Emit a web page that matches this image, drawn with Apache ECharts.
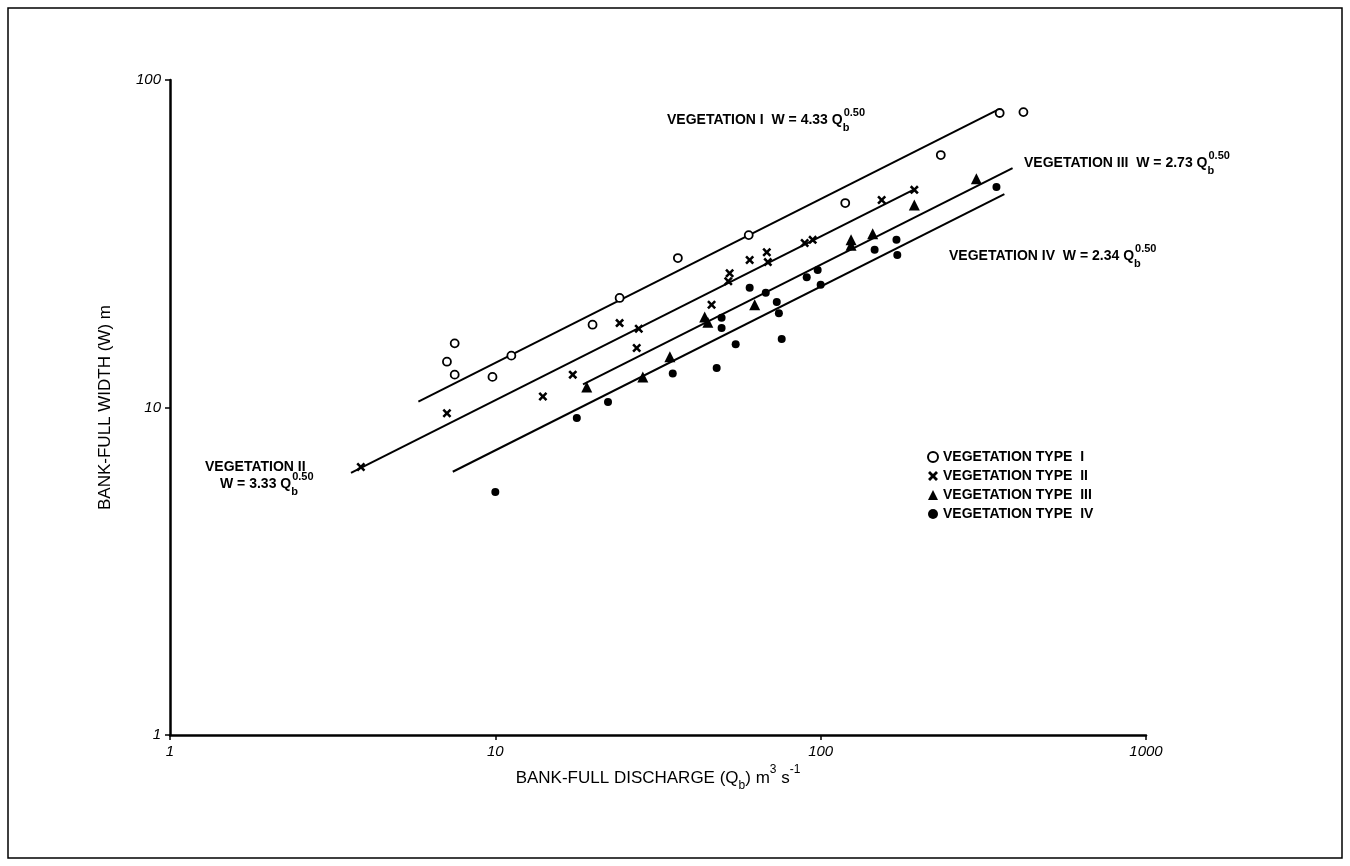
<!DOCTYPE html>
<html>
<head>
<meta charset="utf-8">
<script src="https://cdn.jsdelivr.net/npm/echarts@6/dist/echarts.min.js"></script>
<style>
html, body { margin:0; padding:0; background:#fff; }
#chart { width:1350px; height:866px; }
</style>
</head>
<body>
<div id="chart"></div>
<script>
// 관측값 [Q (m3/s), W (m)] - 식생 유형별
var veg1_pts = [[7.1,13.8],[7.5,15.7],[7.5,12.6],[9.8,12.4],[11.2,14.4],[19.9,17.9],[24.1,21.6],
	[36.4,28.6],[60.1,33.6],[119,42.1],[234,59.0],[355,79.3],[420,79.8]];
var veg2_pts = [[3.86,6.58],[7.1,9.6],[14.0,10.8],[17.3,12.6],[24.1,18.1],[27.6,17.4],[27.2,15.2],
	[46.2,20.6],[52.5,25.7],[52.0,24.3],[60.5,28.2],[68.3,29.8],[68.8,27.8],[89.3,31.8],[94.5,32.5],
	[154,43.0],[194,46.2]];
var veg3_pts = [[19.1,11.55],[28.4,12.4],[34.4,14.3],[44.0,18.9],[45.0,18.2],[62.7,20.6],[124,32.5],
	[124,31.3],[144.5,33.9],[194,41.5],[301,49.9]];
var veg4_pts = [[10.0,5.52],[17.8,9.29],[22.2,10.4],[35.1,12.7],[47.9,13.2],[49.6,18.8],[49.6,17.5],
	[54.8,15.6],[60.5,23.2],[67.8,22.4],[73.3,21.0],[74.4,19.4],[75.9,16.2],[90.6,25.0],[97.9,26.3],
	[100,23.7],[146.5,30.3],[171,32.5],[172,29.2],[347,47.1]];

// 회귀식 W = a * Q^0.50 (계수, 그려진 Q 구간)
var fit_names = ['VEGETATION I', 'VEGETATION II', 'VEGETATION III', 'VEGETATION IV'];
var fit_coef = [4.33, 3.33, 2.73, 2.34];
var fit_exp = 0.50;
var fit_q_range = [[5.8, 350], [3.6, 194], [18.6, 389], [7.4, 367]];

var legend_names = ['VEGETATION TYPE  I', 'VEGETATION TYPE  II', 'VEGETATION TYPE  III', 'VEGETATION TYPE  IV'];

var FONT = '"Liberation Sans", Arial, sans-serif';
var X_PATH = 'path://M0,2 L2,0 L5,3 L8,0 L10,2 L7,5 L10,8 L8,10 L5,7 L2,10 L0,8 L3,5 Z';

function fit_line(i) { // 회귀선 양 끝점 계산
	var a = fit_coef[i];
	return fit_q_range[i].map(function(q) { return [q, a * Math.pow(q, fit_exp)]; });
}

function eq_text(i) { // 회귀식 라벨 (rich text)
	return '{t|' + fit_names[i] + '  W = ' + fit_coef[i].toFixed(2) + ' Q}{sb|b}{sp|' + fit_exp.toFixed(2) + '}';
}

var eq_rich = {
	t: { fontSize: 14, fontWeight: 'bold', fontFamily: FONT, color: '#000', lineHeight: 26, verticalAlign: 'middle' },
	sb: { fontSize: 11, fontWeight: 'bold', fontFamily: FONT, color: '#000', lineHeight: 26, verticalAlign: 'bottom', width: 1 },
	sp: { fontSize: 11, fontWeight: 'bold', fontFamily: FONT, color: '#000', lineHeight: 26, verticalAlign: 'top' }
};

var myChart = echarts.init(document.getElementById('chart'));

var series = [];
for (var i = 0; i < 4; i++) {
	series.push({
		type: 'line',
		data: fit_line(i),
		symbol: 'none',
		silent: true,
		lineStyle: { color: '#000', width: 2 },
		z: 1
	});
}
series.push({ name: legend_names[0], type: 'scatter', data: veg1_pts, symbol: 'circle', symbolSize: 8,
	itemStyle: { color: '#fff', borderColor: '#000', borderWidth: 1.8, opacity: 1 }, z: 3 });
series.push({ name: legend_names[1], type: 'scatter', data: veg2_pts, symbol: X_PATH, symbolSize: 9,
	itemStyle: { color: '#000', opacity: 1 }, z: 3 });
series.push({ name: legend_names[2], type: 'scatter', data: veg3_pts, symbol: 'triangle', symbolSize: 11,
	itemStyle: { color: '#000', opacity: 1 }, z: 3 });
series.push({ name: legend_names[3], type: 'scatter', data: veg4_pts, symbol: 'circle', symbolSize: 8,
	itemStyle: { color: '#000', opacity: 1 }, z: 3 });

var axis_common = {
	type: 'log',
	logBase: 10,
	axisLine: { lineStyle: { color: '#000', width: 2.5 } },
	axisTick: { show: true, length: 5, lineStyle: { color: '#000', width: 1.5 } },
	minorTick: { show: false },
	splitLine: { show: false },
	nameLocation: 'middle'
};

var tick_label = { color: '#000', fontSize: 15, fontStyle: 'italic', fontFamily: FONT, margin: 9,
	formatter: function(v) { return String(Math.round(v)); } };

var option = {
	animation: false,
	backgroundColor: '#fff',
	grid: { left: 170, right: 204, top: 80, bottom: 131 },
	legend: {
		data: legend_names,
		orient: 'vertical',
		left: 922,
		top: 445,
		itemGap: 5,
		itemWidth: 10,
		itemHeight: 10,
		textStyle: { fontSize: 14, fontWeight: 'bold', fontFamily: FONT, color: '#000' }
	},
	xAxis: Object.assign({}, axis_common, {
		min: 1,
		max: 1000,
		axisLabel: tick_label,
		name: '{t|BANK-FULL DISCHARGE (Q}{sb|b}{t|) m}{sp|3}{t| s}{sp|-1}',
		nameGap: 22,
		nameTextStyle: {
			rich: {
				t: { fontSize: 17, fontFamily: FONT, color: '#000', lineHeight: 28, verticalAlign: 'middle' },
				sb: { fontSize: 12, fontFamily: FONT, color: '#000', lineHeight: 28, verticalAlign: 'bottom' },
				sp: { fontSize: 12, fontFamily: FONT, color: '#000', lineHeight: 28, verticalAlign: 'top' }
			}
		}
	}),
	yAxis: Object.assign({}, axis_common, {
		min: 1,
		max: 100,
		axisLabel: tick_label,
		name: 'BANK-FULL WIDTH (W) m',
		nameGap: 56,
		nameRotate: 90,
		nameTextStyle: { fontSize: 17, fontFamily: FONT, color: '#000' }
	}),
	graphic: [
		{ type: 'rect', shape: { x: 8, y: 8, width: 1334, height: 850 }, style: { fill: 'none', stroke: '#000', lineWidth: 1.5 }, silent: true },
		{ type: 'text', left: 667, top: 107, style: { text: eq_text(0), rich: eq_rich } },
		{ type: 'text', left: 1024, top: 150, style: { text: eq_text(2), rich: eq_rich } },
		{ type: 'text', left: 949, top: 243, style: { text: eq_text(3), rich: eq_rich } },
		{ type: 'text', left: 205, top: 460, style: { text: fit_names[1], fontSize: 14, fontWeight: 'bold', fontFamily: FONT, fill: '#000' } },
		{ type: 'text', left: 220, top: 471, style: { text: '{t|W = ' + fit_coef[1].toFixed(2) + ' Q}{sb|b}{sp|' + fit_exp.toFixed(2) + '}', rich: eq_rich } }
	],
	series: series
};

myChart.setOption(option);
</script>
</body>
</html>
